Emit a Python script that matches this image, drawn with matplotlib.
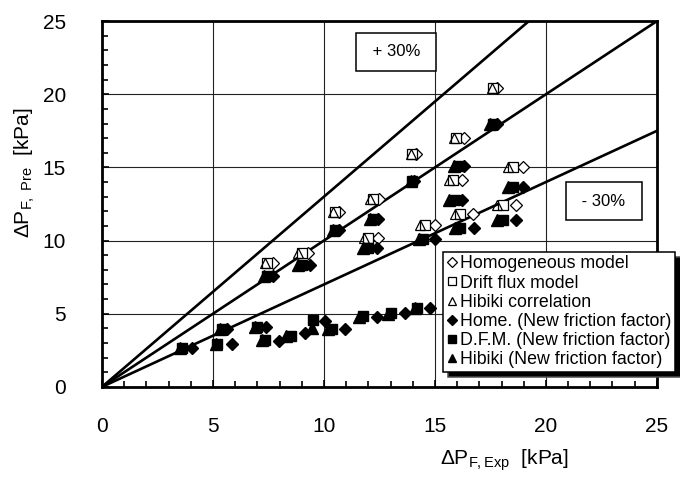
import matplotlib
matplotlib.use("Agg")
import matplotlib.pyplot as plt
import numpy as np

plt.rcParams["font.family"] = ["Liberation Sans", "DejaVu Sans"]
plt.rcParams["mathtext.fontset"] = "custom"
plt.rcParams["mathtext.rm"] = "Liberation Sans"
plt.rcParams["mathtext.it"] = "Liberation Sans:italic"

## open markers (old friction factor)
y_open = [8.45, 9.15, 11.95, 12.85, 10.2, 15.9, 17.0, 20.4, 14.15, 15.05, 11.85, 12.45, 11.05]
x_hibiki = [7.35, 8.85, 10.4, 12.07, 11.8, 13.92, 15.85, 17.55, 15.63, 18.29, 15.9, 17.79, 14.32]
x_dfm = [7.43, 9.0, 10.5, 12.2, 12.0, 13.96, 15.95, 17.61, 15.81, 18.51, 16.13, 18.06, 14.55]
x_homo = [7.7, 9.3, 10.7, 12.48, 12.43, 14.15, 16.3, 17.8, 16.22, 18.96, 16.71, 18.65, 15.0]

## filled markers (new friction factor)
x_homo_new = [7.7, 9.35, 10.7, 12.45, 12.4, 14.05, 17.8, 16.31, 16.22, 18.96, 16.76, 18.65, 15.0,
	4.05, 5.65, 5.85, 7.4, 7.97, 9.15, 10.05, 10.95, 12.4, 13.65, 14.8]
y_homo_new = [7.6, 8.35, 10.7, 11.5, 9.5, 14.07, 17.95, 15.12, 12.75, 13.68, 10.87, 11.4, 10.1,
	2.66, 3.95, 2.94, 4.1, 3.15, 3.7, 4.5, 3.95, 4.8, 5.05, 5.4]
x_dfm_new = [7.43, 9.0, 10.5, 12.2, 12.0, 13.96, 17.61, 16.04, 15.9, 18.51, 16.13, 18.06, 14.46,
	3.6, 5.4, 5.2, 6.98, 7.35, 8.5, 9.5, 10.36, 11.75, 13.0, 14.2]
y_dfm_new = [7.6, 8.35, 10.7, 11.5, 9.5, 14.07, 17.95, 15.12, 12.75, 13.68, 10.87, 11.4, 10.1,
	2.66, 3.95, 2.94, 4.1, 3.2, 3.5, 4.55, 3.95, 4.85, 5.05, 5.4]
x_hibiki_new = [7.3, 8.85, 10.4, 12.07, 11.75, 13.9, 17.5, 15.85, 15.63, 18.29, 15.9, 17.79, 14.28,
	3.5, 5.3, 5.15, 6.9, 7.2, 8.3, 9.45, 10.2, 11.6, 12.9, 14.1]
y_hibiki_new = [7.6, 8.35, 10.7, 11.5, 9.5, 14.07, 17.95, 15.12, 12.75, 13.68, 10.87, 11.4, 10.1,
	2.66, 3.95, 2.94, 4.1, 3.2, 3.45, 4.0, 3.95, 4.8, 5.0, 5.4]

line_x = [0, 25]
ratios = [1.0, 1.3, 0.7]

fig = plt.figure(figsize=(6.8, 4.8), dpi=100)
ax = fig.add_axes([0.15, 0.194, 0.816, 0.762])

# +-30% lines
for r in ratios:
	ax.plot(line_x, [v * r for v in line_x], color="k", lw=1.9, zorder=2)

ax.plot(x_homo, y_open, ls="none", marker="D", ms=6, mfc="white", mec="k", mew=0.9, zorder=3,
	label="Homogeneous model")
ax.plot(x_dfm, y_open, ls="none", marker="s", ms=6.5, mfc="white", mec="k", mew=0.9, zorder=4,
	label="Drift flux model")
ax.plot(x_hibiki, y_open, ls="none", marker="^", ms=7, mfc="none", mec="k", mew=0.9, zorder=5,
	label="Hibiki correlation")
ax.plot(x_homo_new, y_homo_new, ls="none", marker="D", ms=6, color="k", zorder=3,
	label="Home. (New friction factor)")
ax.plot(x_dfm_new, y_dfm_new, ls="none", marker="s", ms=7, color="k", zorder=4,
	label="D.F.M. (New friction factor)")
ax.plot(x_hibiki_new, y_hibiki_new, ls="none", marker="^", ms=8, color="k", zorder=5,
	label="Hibiki (New friction factor)")

ax.set_xlim(0, 25)
ax.set_ylim(0, 25)
ax.set_xticks(np.arange(0, 26, 5))
ax.set_yticks(np.arange(0, 26, 5))
ax.set_xticks(np.arange(0, 26, 1), minor=True)
ax.set_yticks(np.arange(0, 26, 1), minor=True)
ax.grid(True, which="major", color="#222222", lw=0.8)
ax.set_axisbelow(True)
ax.tick_params(which="major", direction="in", length=5, width=1.2, labelsize=15, pad=22)
ax.tick_params(axis="y", which="major", pad=26)
ax.tick_params(which="minor", direction="in", length=4.5, width=1.2)
for s in ax.spines.values():
	s.set_linewidth(2.0)

ax.set_xlabel(r"ΔP$_{\mathrm{F,Exp}}$  [kPa]", fontsize=15)
ax.xaxis.set_label_coords(0.726, -0.165)
ax.set_ylabel(r"ΔP$_{\mathrm{F,\ Pre}}$  [kPa]", fontsize=15)
ax.yaxis.set_label_coords(-0.118, 0.585)

box = dict(boxstyle="square,pad=0.7", fc="white", ec="k", lw=1.1)
ax.text(13.25, 22.9, " + 30% ", fontsize=12, ha="center", va="center", bbox=box, zorder=6)
ax.text(22.6, 12.7, " - 30% ", fontsize=12, ha="center", va="center", bbox=box, zorder=6)

leg = ax.legend(loc="upper left", bbox_to_anchor=(0.614, 0.369), borderaxespad=0, fontsize=12.8,
	handlelength=0.6, handletextpad=0.2, labelspacing=0.12, borderpad=0.2, fancybox=False,
	framealpha=1, edgecolor="k", markerscale=0.8,
	shadow={"ox": 4, "oy": -4, "facecolor": "k", "alpha": 1})
leg.get_frame().set_linewidth(1.1)
leg.set_zorder(10)

fig.savefig("out.png", dpi=100)
